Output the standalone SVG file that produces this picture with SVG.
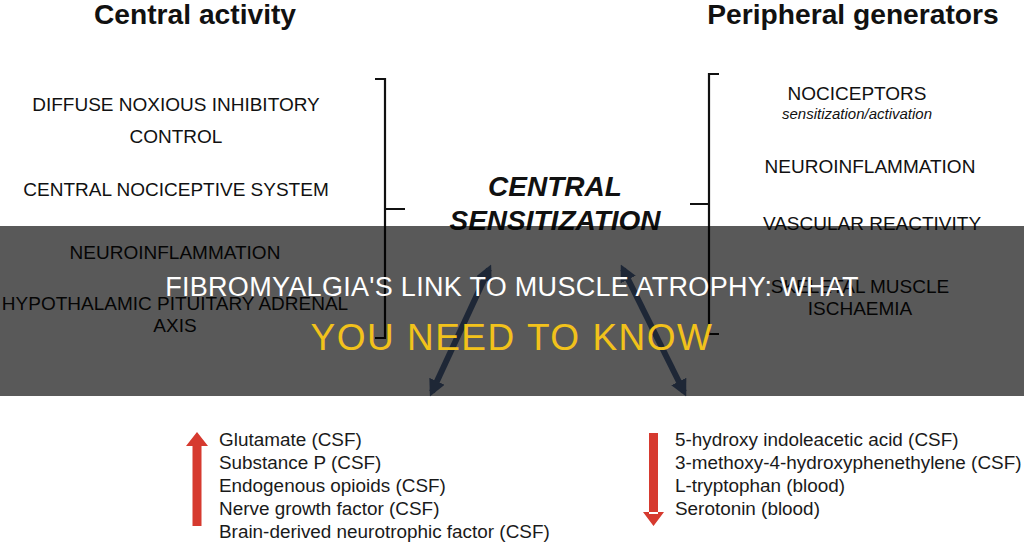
<svg xmlns="http://www.w3.org/2000/svg" width="1024" height="545" viewBox="0 0 1024 545">
<style>
.h{font-family:"Liberation Sans",Arial,sans-serif;font-weight:bold;font-size:28.2px;fill:#111;text-anchor:middle}
.t{font-family:"Liberation Sans",Arial,sans-serif;font-size:19px;fill:#111;text-anchor:middle}
.it{font-family:"Liberation Sans",Arial,sans-serif;font-style:italic;font-size:15px;fill:#111;text-anchor:middle}
.c{font-family:"Liberation Sans",Arial,sans-serif;font-style:italic;font-weight:bold;font-size:28px;fill:#111;text-anchor:middle}
.l{font-family:"Liberation Sans",Arial,sans-serif;font-size:18.9px;fill:#1a1a1a}
.br{fill:none;stroke:#111;stroke-width:2.2}
.dbl{stroke:#56709c;stroke-width:6;marker-start:url(#ah);marker-end:url(#ah)}
.red{fill:#d63a2f}
.t1{font-family:"Liberation Sans",Arial,sans-serif;font-size:27px;fill:#fff;text-anchor:middle;letter-spacing:0.3px}
.t2{font-family:"Liberation Sans",Arial,sans-serif;font-size:37px;fill:#f2c21b;text-anchor:middle;letter-spacing:1.5px}
</style>
<defs>
<marker id="ah" viewBox="0 0 10 10" refX="7" refY="5" markerWidth="2.8" markerHeight="2.8" orient="auto-start-reverse" markerUnits="strokeWidth">
<path d="M0,0 L10,5 L0,10 Z" fill="#56709c"/>
</marker>
</defs>
<rect width="1024" height="545" fill="#fff"/>
<g id="central-activity">
<text class="h" x="195" y="24">Central activity</text>
<text class="t" x="176" y="111">DIFFUSE NOXIOUS INHIBITORY</text>
<text class="t" x="176" y="143">CONTROL</text>
<text class="t" x="176" y="196">CENTRAL NOCICEPTIVE SYSTEM</text>
<text class="t" x="175" y="259">NEUROINFLAMMATION</text>
<text class="t" x="175" y="310">HYPOTHALAMIC PITUITARY ADRENAL</text>
<text class="t" x="175" y="332">AXIS</text>
</g>
<g id="peripheral-generators">
<text class="h" x="853" y="24">Peripheral generators</text>
<text class="t" x="857" y="100">NOCICEPTORS</text>
<text class="it" x="857" y="119">sensitization/activation</text>
<text class="t" x="870" y="173">NEUROINFLAMMATION</text>
<text class="t" x="872" y="230">VASCULAR REACTIVITY</text>
<text class="t" x="860" y="293">SKELETAL MUSCLE</text>
<text class="t" x="860" y="315">ISCHAEMIA</text>
</g>
<g id="central-sensitization">
<text class="c" x="555" y="196">CENTRAL</text>
<text class="c" x="555" y="230">SENSITIZATION</text>
</g>
<g id="connectors">
<path class="br" d="M375,79 H385 V338 H375 M385,209 H405"/>
<path class="br" d="M719,74 H709 V334 H719 M709,204 H690"/>
<line class="dbl" x1="432" y1="392" x2="489" y2="269"/>
<line class="dbl" x1="623" y1="269" x2="684" y2="392"/>
</g>
<g id="increased">
<path class="red" d="M192.5,444 H201.5 V526 H192.5 Z M186,446 L197,432 L208,446 Z"/>
<text class="l" x="219" y="446">Glutamate (CSF)</text>
<text class="l" x="219" y="469">Substance P (CSF)</text>
<text class="l" x="219" y="492">Endogenous opioids (CSF)</text>
<text class="l" x="219" y="515">Nerve growth factor (CSF)</text>
<text class="l" x="219" y="538">Brain-derived neurotrophic factor (CSF)</text>
</g>
<g id="decreased">
<path class="red" d="M649,433 H658 V514 H649 Z M643,512 L653.5,526 L664,512 Z"/>
<text class="l" x="675" y="446">5-hydroxy indoleacetic acid (CSF)</text>
<text class="l" x="675" y="469">3-methoxy-4-hydroxyphenethylene (CSF)</text>
<text class="l" x="675" y="492">L-tryptophan (blood)</text>
<text class="l" x="675" y="515">Serotonin (blood)</text>
</g>
<rect x="0" y="226" width="1024" height="170" fill="#000" opacity="0.65"/>
<g id="title">
<text class="t1" x="512" y="296">FIBROMYALGIA'S LINK TO MUSCLE ATROPHY: WHAT</text>
<text class="t2" x="512" y="350">YOU NEED TO KNOW</text>
</g>
</svg>
